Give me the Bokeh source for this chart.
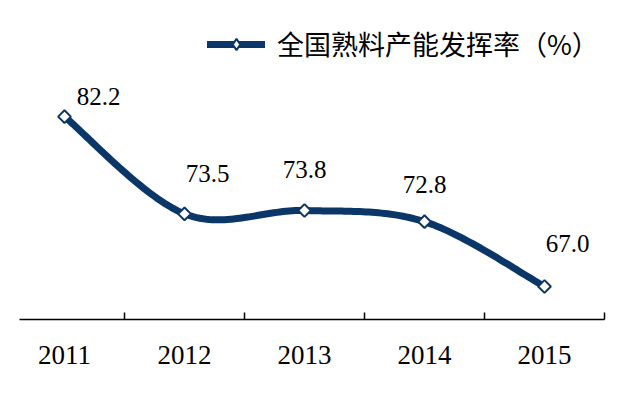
import numpy as np
from bokeh.plotting import figure
from bokeh.models import FixedTicker, Legend, LegendItem, ColumnDataSource
from bokeh.core.properties import value
from bokeh.embed import file_html
from bokeh.resources import INLINE

years = ["2011", "2012", "2013", "2014", "2015"]
rates = [82.2, 73.5, 73.8, 72.8, 67.0]
labels = ["82.2", "73.5", "73.8", "72.8", "67.0"]
label_dx = [34, 23, 0, 0, 23]
label_dy = [-20, -40, -41, -37, -43]
series_name = "全国熟料产能发挥率（%）"

NAVY = "#0b3768"

xs = np.arange(len(years), dtype=float)
ys = np.array(rates, dtype=float)

# smooth curve through the points (Catmull-Rom style cubic Bezier, like a smoothed line)
P = np.column_stack([xs, ys])
Pe = np.vstack([P[0], P, P[-1]])
cx, cy = [], []
t = np.linspace(0, 1, 40)
for i in range(len(P) - 1):
    p0, p1, p2, p3 = Pe[i], Pe[i + 1], Pe[i + 2], Pe[i + 3]
    c1 = p1 + (p2 - p0) / 6.0
    c2 = p2 - (p3 - p1) / 6.0
    b = (((1 - t) ** 3)[:, None] * p1 + (3 * (1 - t) ** 2 * t)[:, None] * c1
         + (3 * (1 - t) * t ** 2)[:, None] * c2 + (t ** 3)[:, None] * p2)
    if i > 0:
        b = b[1:]
    cx.extend(b[:, 0]); cy.extend(b[:, 1])

p = figure(width=610, height=386, output_backend="svg", toolbar_location=None,
           x_range=(-0.375, 4.5), y_range=(64.05, 91.87),
           min_border_left=19, min_border_right=6, min_border_top=8, min_border_bottom=67)
p.outline_line_color = None
p.xgrid.visible = False
p.ygrid.visible = False
p.yaxis.visible = False

ln = p.line(cx, cy, line_width=7, line_color=NAVY, line_join="round", line_cap="round")
src = ColumnDataSource(dict(x=xs, y=ys, lab=labels, dx=label_dx, dy=label_dy))
sc = p.scatter("x", "y", source=src, marker="square", angle=np.pi / 4, size=9,
               fill_color="white", line_color=NAVY, line_width=2)
# legend-only marker (kept outside the visible ranges)
leg_marker = p.scatter(x=[-10.0], y=[0.0], marker="diamond", size=15,
                       fill_color="white", line_color=NAVY, line_width=2)
p.text("x", "y", text="lab", source=src, x_offset="dx", y_offset="dy",
       text_align="center", text_baseline="middle",
       text_font=value("Liberation Serif"), text_font_size="25px", text_color="black")

xa = p.xaxis[0]
xa.ticker = FixedTicker(ticks=list(xs), minor_ticks=[0.5, 1.5, 2.5, 3.5, 4.5])
xa.major_label_overrides = {float(i): y for i, y in enumerate(years)}
xa.major_label_overrides.update({int(i): y for i, y in enumerate(years)})
xa.major_tick_in = 0
xa.major_tick_out = 0
xa.minor_tick_in = 7
xa.minor_tick_out = 0
xa.minor_tick_line_color = "black"
xa.minor_tick_line_width = 1.5
xa.axis_line_color = "black"
xa.axis_line_width = 1.5
xa.major_label_text_font = "Liberation Serif"
xa.major_label_text_font_size = "27px"
xa.major_label_text_color = "black"
xa.major_label_standoff = 26

legend = Legend(items=[LegendItem(label=series_name, renderers=[ln, leg_marker])],
                location=(188, 256), orientation="horizontal",
                padding=0, margin=0, border_line_color=None, background_fill_alpha=0,
                glyph_width=58, glyph_height=28, label_standoff=12,
                label_text_font="Noto Sans CJK SC", label_text_font_size="27px",
                label_text_color="black")
p.add_layout(legend, "center")

open("out.html", "w").write(file_html(p, INLINE))
